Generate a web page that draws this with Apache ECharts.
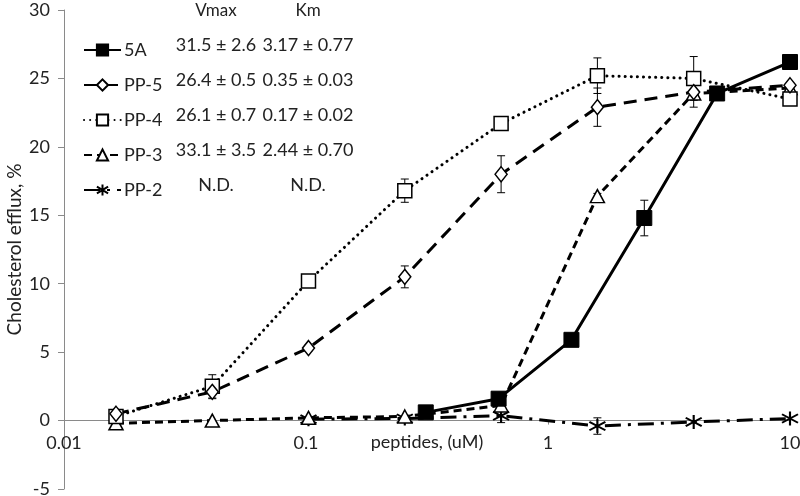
<!DOCTYPE html>
<html><head><meta charset="utf-8">
<script src="https://cdn.jsdelivr.net/npm/echarts@6/dist/echarts.min.js"></script>
<style>html,body{margin:0;padding:0;background:#fff}#c{width:800px;height:496px}</style>
</head><body><div id="c"></div>
<script>
// ---- data ----
const seriesNames = ['5A', 'PP-5', 'PP-4', 'PP-3', 'PP-2'];
const conc5A = [0.3125, 0.625, 1.25, 2.5, 5, 10];
const eff5A  = [0.6, 1.6, 5.9, 14.8, 23.9, 26.2];
const err5A  = [0, 0, 0, 1.3, 0, 0];

const concPP = [0.0164, 0.041, 0.1024, 0.256, 0.64, 1.6, 4, 10];
const effPP5 = [0.5, 2.1, 5.3, 10.5, 18.0, 22.9, 24.0, 24.5];
const errPP5 = [0, 0.5, 0.2, 0.8, 1.35, 1.4, 0, 0];
const effPP4 = [0.3, 2.5, 10.2, 16.8, 21.7, 25.2, 25.0, 23.5];
const errPP4 = [0, 0.85, 0.3, 0.85, 0.3, 1.3, 1.6, 0];
const effPP3 = [-0.2, 0.0, 0.2, 0.3, 1.1, 16.4, 23.9, 24.3];
const errPP3 = [0, 0, 0, 0, 0, 0.2, 1.0, 0];

const concPP2 = [0.1024, 0.256, 0.64, 1.6, 4, 10];
const effPP2  = [0.1, 0.15, 0.35, -0.4, -0.1, 0.15];
const errPP2  = [0, 0, 0.5, 0.6, 0, 0];

const xTicks = [0.01, 0.1, 1, 10];
const yMin = -5, yMax = 30, yStep = 5;

const tableHeaders = ['Vmax', 'Km'];
const vmaxText = ['31.5 ± 2.6', '26.4 ± 0.5', '26.1 ± 0.7', '33.1 ± 3.5', 'N.D.'];
const kmText   = ['3.17 ± 0.77', '0.35 ± 0.03', '0.17 ± 0.02', '2.44 ± 0.70', 'N.D.'];

const xTitle = 'peptides, (uM)';
const yTitle = 'Cholesterol efflux, %';

// ---- layout ----
const FONT = 'Lato';
const W = 800, H = 496;
const gridTop = 10, gridBottom = 7;
const plotH = H - gridTop - gridBottom;
const xAxisOffset = -plotH * (0 - yMin) / (yMax - yMin); // put x axis at y = 0

const pairs = (xs, ys) => xs.map((x, i) => [x, ys[i]]);
const triples = (xs, ys, es) => xs.map((x, i) => [x, ys[i], es[i]]).filter(d => d[2] > 0);

function errSeries(data) {
  return {
    type: 'custom', silent: true, z: 3,
    encode: { x: 0, y: 1 },
    data: data,
    renderItem: function (params, api) {
      const x = api.value(0), y = api.value(1), e = api.value(2);
      const top = api.coord([x, y + e]);
      const bot = api.coord([x, y - e]);
      const w = 4;
      const st = { stroke: '#000', lineWidth: 1 };
      return { type: 'group', children: [
        { type: 'line', shape: { x1: top[0], y1: top[1], x2: bot[0], y2: bot[1] }, style: st },
        { type: 'line', shape: { x1: top[0] - w, y1: top[1], x2: top[0] + w, y2: top[1] }, style: st },
        { type: 'line', shape: { x1: bot[0] - w, y1: bot[1], x2: bot[0] + w, y2: bot[1] }, style: st }
      ]};
    }
  };
}

const starPath = 'path://M10,0 L10,20 M1,4 L19,16 M1,16 L19,4';

const chart = echarts.init(document.getElementById('c'), null, { renderer: 'canvas' });

const graphics = [];
const colV = 216, colK = 308;
const rowY = [45, 80, 115, 150, 185];
graphics.push({ type: 'text', x: colV, y: 11, style: { text: tableHeaders[0], font: '17px ' + FONT, fill: '#222', align: 'center', verticalAlign: 'middle' } });
graphics.push({ type: 'text', x: colK, y: 11, style: { text: tableHeaders[1], font: '17px ' + FONT, fill: '#222', align: 'center', verticalAlign: 'middle' } });
vmaxText.forEach((t, i) => graphics.push({ type: 'text', x: colV, y: rowY[i], style: { text: t, font: '18px ' + FONT, fill: '#222', align: 'center', verticalAlign: 'middle' } }));
kmText.forEach((t, i) => graphics.push({ type: 'text', x: colK, y: rowY[i], style: { text: t, font: '18px ' + FONT, fill: '#222', align: 'center', verticalAlign: 'middle' } }));

const option = {
  backgroundColor: '#fff',
  animation: false,
  textStyle: { fontFamily: FONT },
  grid: { left: 64, right: 10, top: gridTop, bottom: gridBottom, containLabel: false, outerBoundsMode: 'none' },
  xAxis: {
    type: 'log', logBase: 10, min: xTicks[0], max: xTicks[xTicks.length - 1],
    position: 'bottom', offset: xAxisOffset,
    axisLine: { onZero: false, lineStyle: { color: '#8a8a8a', width: 1 } },
    axisTick: { show: true, inside: false, length: 4, lineStyle: { color: '#8a8a8a' } },
    minorTick: { show: false },
    splitLine: { show: false },
    axisLabel: { color: '#222', fontSize: 18, margin: 14, fontFamily: FONT,
      formatter: v => String(v) },
    name: xTitle, nameLocation: 'middle', nameGap: 13, nameMoveOverlap: false,
    nameTextStyle: { color: '#222', fontSize: 18, fontFamily: FONT }
  },
  yAxis: {
    type: 'value', min: yMin, max: yMax, interval: yStep,
    axisLine: { show: true, onZero: false, lineStyle: { color: '#8a8a8a', width: 1 } },
    axisTick: { show: true, length: 6, lineStyle: { color: '#8a8a8a' } },
    splitLine: { show: false },
    axisLabel: { color: '#222', fontSize: 18, margin: 14, fontFamily: FONT },
    name: yTitle, nameLocation: 'middle', nameGap: 40, nameMoveOverlap: false,
    nameTextStyle: { color: '#222', fontSize: 19, fontFamily: FONT }
  },
  legend: {
    orient: 'vertical', left: 78, top: 36,
    itemWidth: 37, itemHeight: 14, itemGap: 17,
    textStyle: { fontSize: 18, lineHeight: 18, color: '#222', fontFamily: FONT, padding: [0, 0, 0, -2] },
    data: seriesNames
  },
  graphic: graphics,
  series: [
    errSeries(triples(concPP, effPP3, errPP3)),
    errSeries(triples(concPP2, effPP2, errPP2)),
    errSeries(triples(concPP, effPP4, errPP4)),
    errSeries(triples(concPP, effPP5, errPP5)),
    errSeries(triples(conc5A, eff5A, err5A)),
    { name: 'PP-2', type: 'line', data: pairs(concPP2, effPP2), z: 4,
      symbol: starPath, symbolSize: [16, 14],
      itemStyle: { color: 'rgba(0,0,0,0)', borderColor: '#000', borderWidth: 2 },
      lineStyle: { color: '#000', width: 3, type: [16, 7, 3, 7] } },
    { name: 'PP-3', type: 'line', data: pairs(concPP, effPP3), z: 4,
      symbol: 'triangle', symbolSize: [14, 13],
      itemStyle: { color: '#fff', borderColor: '#000', borderWidth: 1.5 },
      lineStyle: { color: '#000', width: 3, type: [8, 5] } },
    { name: 'PP-4', type: 'line', data: pairs(concPP, effPP4), z: 4,
      symbol: 'rect', symbolSize: 14,
      itemStyle: { color: '#fff', borderColor: '#000', borderWidth: 1.5 },
      lineStyle: { color: '#000', width: 3, type: [0.1, 6], cap: 'round' } },
    { name: 'PP-5', type: 'line', data: pairs(concPP, effPP5), z: 4,
      symbol: 'diamond', symbolSize: [12, 15],
      itemStyle: { color: '#fff', borderColor: '#000', borderWidth: 1.5 },
      lineStyle: { color: '#000', width: 3, type: [13, 8] } },
    { name: '5A', type: 'line', data: pairs(conc5A, eff5A), z: 5,
      symbol: 'rect', symbolSize: 15,
      itemStyle: { color: '#000', borderColor: '#000', borderWidth: 1 },
      lineStyle: { color: '#000', width: 3, type: 'solid' } }
  ]
};
chart.setOption(option);
</script>
</body></html>
